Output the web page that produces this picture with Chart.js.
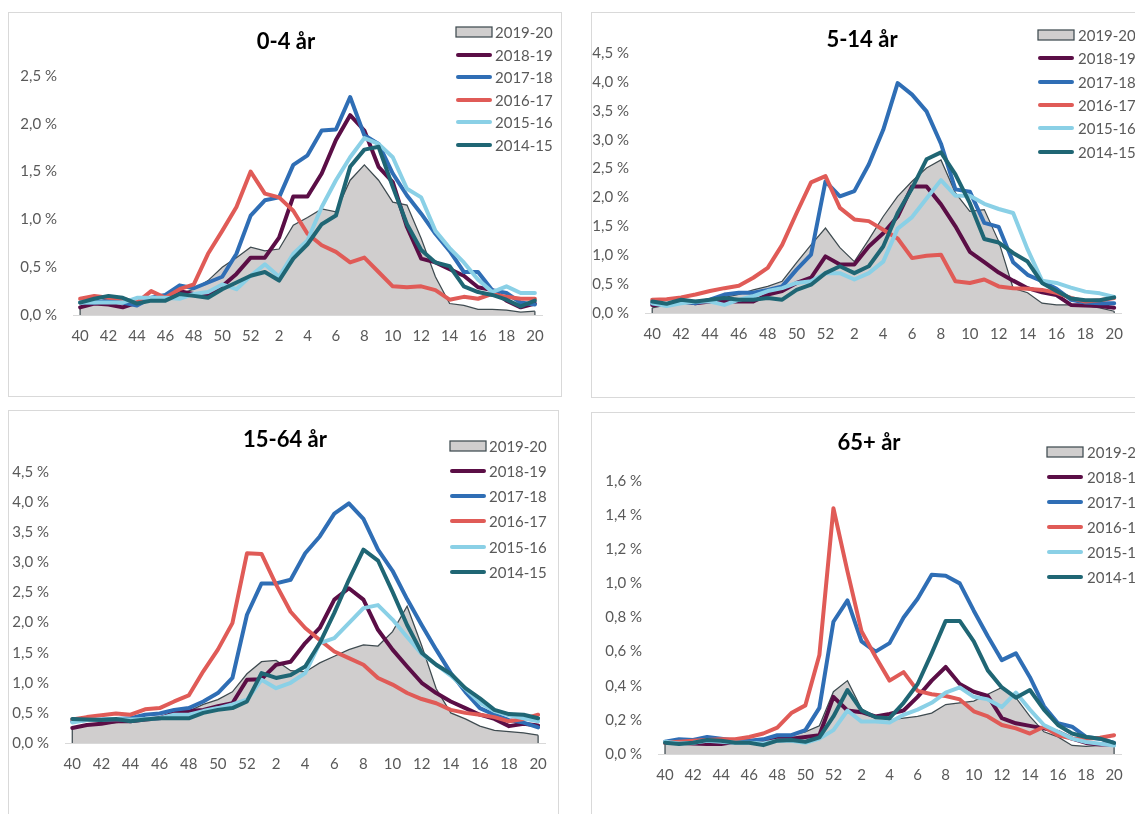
<!DOCTYPE html>
<html>
<head>
<meta charset="utf-8">
<script src="https://cdn.jsdelivr.net/npm/chart.js@4.4.1/dist/chart.umd.min.js"></script>
<style>
  body { margin: 0; width: 1135px; height: 814px; overflow: hidden; background: #fff; position: relative; }
  .box { position: absolute; border: 1px solid #d9d9d9; box-sizing: border-box; }
  canvas { position: absolute; }
</style>
</head>
<body>
<div class="box" style="left:8px;top:12px;width:554px;height:385px"></div>
<div class="box" style="left:591px;top:12px;width:580px;height:386px"></div>
<div class="box" style="left:8px;top:410px;width:551px;height:430px"></div>
<div class="box" style="left:591px;top:412px;width:580px;height:430px"></div>
<canvas id="c1"></canvas>
<canvas id="c2"></canvas>
<canvas id="c3"></canvas>
<canvas id="c4"></canvas>
<script>
// week numbers on the x axis (season runs week 40 -> week 20)
const weeks = [40, 41, 42, 43, 44, 45, 46, 47, 48, 49, 50, 51, 52,
  1, 2, 3, 4, 5, 6, 7, 8, 9, 10, 11, 12, 13, 14, 15, 16, 17, 18, 19, 20];
const seasons = ["2019-20", "2018-19", "2017-18", "2016-17", "2015-16", "2014-15"];
const seriesColors = ["#d0cece", "#5b0e46", "#2f6eb5", "#e05b57", "#8ad0e6", "#1f6674"];

// 0-4 år
const age0_4_1920 = [0.08,0.13,0.17,0.17,0.13,0.18,0.18,0.22,0.27,0.36,0.50,0.60,0.71,0.67,0.69,0.94,1.02,1.11,1.08,1.41,1.57,1.41,1.18,1.15,0.80,0.40,0.12,0.10,0.06,0.06,0.05,0.03,0.04];
const age0_4_1819 = [0.08,0.12,0.11,0.08,0.13,0.16,0.20,0.25,0.22,0.22,0.30,0.43,0.60,0.60,0.81,1.24,1.24,1.48,1.83,2.09,1.93,1.55,1.39,0.92,0.59,0.55,0.48,0.41,0.29,0.26,0.15,0.08,0.12];
const age0_4_1718 = [0.13,0.13,0.15,0.13,0.10,0.18,0.21,0.31,0.28,0.34,0.40,0.64,1.04,1.20,1.23,1.57,1.67,1.93,1.94,2.28,1.88,1.79,1.48,1.25,1.06,0.85,0.67,0.45,0.45,0.26,0.23,0.13,0.11];
const age0_4_1617 = [0.17,0.20,0.18,0.17,0.13,0.25,0.18,0.27,0.32,0.64,0.88,1.13,1.50,1.27,1.23,1.09,0.85,0.73,0.66,0.55,0.60,0.45,0.30,0.29,0.30,0.26,0.16,0.19,0.17,0.22,0.19,0.17,0.17];
const age0_4_1516 = [0.13,0.13,0.13,0.13,0.18,0.18,0.18,0.17,0.22,0.24,0.32,0.27,0.41,0.53,0.40,0.64,0.78,1.13,1.41,1.65,1.85,1.79,1.65,1.32,1.23,0.88,0.70,0.55,0.37,0.24,0.30,0.23,0.23];
const age0_4_1415 = [0.13,0.17,0.20,0.18,0.12,0.15,0.15,0.22,0.20,0.18,0.27,0.34,0.41,0.45,0.36,0.59,0.74,0.95,1.04,1.55,1.73,1.76,1.34,0.95,0.68,0.55,0.51,0.30,0.24,0.21,0.16,0.09,0.15];

// 5-14 år
const age5_14_1920 = [0.09,0.14,0.20,0.20,0.23,0.27,0.32,0.40,0.46,0.55,0.87,1.18,1.47,1.13,0.89,1.27,1.67,2.02,2.28,2.51,2.65,2.08,1.76,1.79,1.24,0.43,0.35,0.17,0.14,0.14,0.13,0.09,0.03];
const age5_14_1819 = [0.14,0.14,0.20,0.17,0.20,0.20,0.20,0.20,0.32,0.38,0.52,0.61,0.98,0.84,0.84,1.15,1.38,1.67,2.19,2.19,1.88,1.50,1.06,0.88,0.70,0.56,0.43,0.36,0.31,0.14,0.13,0.12,0.09];
const age5_14_1718 = [0.17,0.14,0.20,0.17,0.23,0.32,0.35,0.35,0.40,0.46,0.75,1.01,2.28,2.02,2.11,2.57,3.17,3.98,3.78,3.49,2.93,2.14,2.10,1.56,1.49,0.88,0.66,0.55,0.42,0.23,0.18,0.17,0.17];
const age5_14_1617 = [0.23,0.24,0.27,0.32,0.38,0.43,0.47,0.61,0.78,1.18,1.73,2.26,2.37,1.82,1.62,1.59,1.44,1.29,0.95,0.99,1.01,0.55,0.52,0.58,0.46,0.43,0.42,0.40,0.35,0.26,0.20,0.22,0.26];
const age5_14_1516 = [0.17,0.12,0.17,0.20,0.20,0.14,0.23,0.29,0.38,0.43,0.52,0.55,0.69,0.69,0.58,0.69,0.89,1.46,1.66,1.98,2.30,2.03,2.03,1.89,1.80,1.73,1.10,0.56,0.52,0.44,0.37,0.34,0.28];
const age5_14_1415 = [0.20,0.16,0.23,0.20,0.23,0.26,0.23,0.23,0.26,0.23,0.40,0.49,0.69,0.81,0.69,0.81,1.15,1.73,2.16,2.66,2.78,2.40,1.90,1.28,1.22,1.04,0.89,0.52,0.38,0.25,0.22,0.22,0.27];

// 15-64 år
const age15_64_1920 = [0.25,0.30,0.32,0.34,0.36,0.39,0.44,0.47,0.53,0.64,0.72,0.85,1.15,1.35,1.37,1.20,1.18,1.33,1.44,1.55,1.63,1.61,1.85,2.27,1.62,0.90,0.50,0.40,0.28,0.21,0.19,0.17,0.13];
const age15_64_1819 = [0.25,0.30,0.32,0.36,0.36,0.39,0.41,0.50,0.53,0.55,0.61,0.66,1.05,1.06,1.30,1.35,1.66,1.91,2.38,2.57,2.38,1.88,1.55,1.27,1.00,0.83,0.69,0.58,0.47,0.40,0.28,0.32,0.29];
const age15_64_1718 = [0.36,0.38,0.39,0.40,0.41,0.47,0.49,0.55,0.58,0.69,0.83,1.08,2.13,2.65,2.65,2.71,3.15,3.43,3.81,3.98,3.72,3.21,2.86,2.39,1.96,1.55,1.16,0.85,0.58,0.47,0.38,0.34,0.26];
const age15_64_1617 = [0.39,0.43,0.46,0.49,0.47,0.56,0.58,0.69,0.79,1.19,1.55,1.99,3.15,3.14,2.63,2.18,1.91,1.71,1.52,1.41,1.30,1.08,0.97,0.83,0.73,0.66,0.55,0.50,0.47,0.43,0.36,0.40,0.47];
const age15_64_1516 = [0.34,0.38,0.39,0.40,0.39,0.40,0.41,0.47,0.47,0.53,0.58,0.64,0.72,1.05,0.91,1.00,1.16,1.66,1.74,1.99,2.24,2.29,2.05,1.76,1.48,1.30,1.12,0.90,0.67,0.53,0.46,0.41,0.36];
const age15_64_1415 = [0.40,0.39,0.38,0.40,0.36,0.39,0.41,0.41,0.41,0.50,0.55,0.58,0.69,1.16,1.08,1.13,1.27,1.66,2.16,2.71,3.21,3.03,2.51,1.96,1.50,1.30,1.15,0.91,0.74,0.55,0.48,0.47,0.41];

// 65+ år
const age65_1920 = [0.062,0.072,0.09,0.09,0.086,0.082,0.072,0.072,0.10,0.11,0.13,0.165,0.365,0.43,0.265,0.22,0.20,0.21,0.22,0.24,0.29,0.30,0.31,0.35,0.39,0.33,0.22,0.13,0.10,0.05,0.045,0.05,0.055];
const age65_1819 = [0.066,0.066,0.062,0.058,0.058,0.072,0.072,0.082,0.09,0.09,0.10,0.11,0.335,0.255,0.245,0.22,0.235,0.255,0.335,0.43,0.51,0.41,0.365,0.34,0.21,0.18,0.165,0.15,0.13,0.09,0.065,0.055,0.055];
const age65_1718 = [0.072,0.086,0.082,0.10,0.09,0.078,0.078,0.086,0.11,0.11,0.14,0.27,0.775,0.90,0.66,0.60,0.65,0.80,0.91,1.05,1.045,1.00,0.84,0.69,0.55,0.59,0.45,0.28,0.18,0.16,0.10,0.09,0.065];
const age65_1617 = [0.066,0.072,0.078,0.082,0.086,0.086,0.10,0.12,0.155,0.24,0.285,0.58,1.44,1.07,0.72,0.57,0.43,0.48,0.37,0.35,0.34,0.32,0.25,0.22,0.17,0.15,0.12,0.16,0.11,0.09,0.09,0.095,0.11];
const age65_1516 = [0.072,0.062,0.066,0.078,0.072,0.066,0.066,0.062,0.078,0.078,0.066,0.09,0.14,0.255,0.19,0.19,0.185,0.23,0.26,0.30,0.36,0.39,0.335,0.32,0.275,0.36,0.26,0.17,0.13,0.09,0.07,0.06,0.05];
const age65_1415 = [0.066,0.058,0.066,0.082,0.078,0.066,0.066,0.052,0.078,0.082,0.072,0.097,0.22,0.375,0.255,0.215,0.21,0.30,0.41,0.59,0.78,0.78,0.66,0.49,0.39,0.33,0.375,0.26,0.17,0.12,0.10,0.09,0.065];

const fmtPct = v => v.toFixed(1).replace(".", ",") + " %";

function makePanel(cfg, series) {
  const el = document.getElementById(cfg.id);
  const cv = cfg.canvas;
  el.width = cv.w;
  el.height = cv.h;
  el.style.left = cv.x + "px";
  el.style.top = cv.y + "px";
  el.style.width = cv.w + "px";
  el.style.height = cv.h + "px";

  const a = cfg.area;
  const xAxisH = 40;

  const datasets = series.map((d, k) => {
    if (k === 0) {
      return {
        label: seasons[0],
        data: d,
        fill: "origin",
        backgroundColor: seriesColors[0],
        borderColor: "#3f4b50",
        borderWidth: 1.25,
        pointRadius: 0,
        tension: 0,
        order: 10,
      };
    }
    return {
      label: seasons[k],
      data: d,
      fill: false,
      borderColor: seriesColors[k],
      borderWidth: 4,
      borderCapStyle: "round",
      borderJoinStyle: "round",
      pointRadius: 0,
      tension: 0,
      order: 10 - k,
    };
  });

  // title, legend and the area's vertical edges
  const decor = {
    id: "decor",
    afterDatasetDraw(chart, args) {
      if (args.index !== 0) return;
      const pts = args.meta.data;
      const yb = chart.scales.y.getPixelForValue(0);
      const c = chart.ctx;
      c.save();
      c.strokeStyle = "#3f4b50";
      c.lineWidth = 1.25;
      c.beginPath();
      [pts[0], pts[pts.length - 1]].forEach(p => {
        c.moveTo(p.x, yb);
        c.lineTo(p.x, p.y);
      });
      c.stroke();
      c.restore();
    },
    afterDraw(chart) {
      const c = chart.ctx;
      c.save();
      c.fillStyle = "#000";
      c.font = "bold 22px Lato";
      c.textAlign = "center";
      c.textBaseline = "middle";
      c.fillText(cfg.title, cfg.titleX - cv.x, cfg.titleY - cv.y);

      c.font = "15px Lato";
      c.textAlign = "left";
      for (let k = 0; k < seasons.length; k++) {
        const y = cfg.legY[k] - cv.y;
        const sx = cfg.legX - cv.x;
        if (k === 0) {
          c.fillStyle = seriesColors[0];
          c.fillRect(sx, y - 5, 36, 10);
          c.strokeStyle = "#3f4b50";
          c.lineWidth = 1.25;
          c.strokeRect(sx, y - 5, 36, 10);
        } else {
          c.strokeStyle = seriesColors[k];
          c.lineWidth = 4;
          c.lineCap = "round";
          c.beginPath();
          c.moveTo(sx + 2, y);
          c.lineTo(sx + 34, y);
          c.stroke();
        }
        c.fillStyle = "#595959";
        c.fillText(seasons[k], cfg.legTextX - cv.x, y + 1);
      }
      c.restore();
    },
  };

  new Chart(el, {
    type: "line",
    data: { labels: weeks.map(String), datasets: datasets },
    options: {
      responsive: false,
      animation: false,
      layout: {
        padding: {
          left: 0,
          top: a.t - cv.y,
          right: cv.x + cv.w - a.r,
          bottom: cv.y + cv.h - a.b - xAxisH,
        },
      },
      scales: {
        x: {
          offset: true,
          grid: { display: false, drawTicks: false },
          border: { display: true, color: "#d9d9d9", width: 1 },
          ticks: {
            autoSkip: false,
            maxRotation: 0,
            padding: 12,
            color: "#595959",
            font: { family: "Lato", size: 15 },
            callback: (v, i) => (i % 2 === 0 ? String(weeks[i]) : ""),
          },
          afterFit: s => { s.height = xAxisH; },
        },
        y: {
          min: 0,
          max: cfg.yMax,
          grid: { display: false, drawTicks: false },
          border: { display: false },
          ticks: {
            stepSize: cfg.yStep,
            padding: 16,
            color: "#595959",
            font: { family: "Lato", size: 15 },
            callback: v => fmtPct(v),
          },
          afterFit: s => { s.width = a.l - cv.x; },
        },
      },
      plugins: {
        legend: { display: false },
        tooltip: { enabled: false },
      },
    },
    plugins: [decor],
  });
}

makePanel({
  id: "c1", canvas: { x: 8, y: 12, w: 554, h: 385 },
  area: { l: 73, r: 542, t: 76, b: 315 }, yMax: 2.5, yStep: 0.5,
  title: "0-4 år", titleX: 286, titleY: 42,
  legX: 456, legTextX: 495, legY: [32, 55, 77, 100, 122, 145],
}, [age0_4_1920, age0_4_1819, age0_4_1718, age0_4_1617, age0_4_1516, age0_4_1415]);

makePanel({
  id: "c2", canvas: { x: 591, y: 12, w: 544, h: 386 },
  area: { l: 645, r: 1129, t: 53, b: 313 }, yMax: 4.5, yStep: 0.5,
  title: "5-14 år", titleX: 862, titleY: 40,
  legX: 1038, legTextX: 1078, legY: [35, 58, 82, 105, 128, 152],
}, [age5_14_1920, age5_14_1819, age5_14_1718, age5_14_1617, age5_14_1516, age5_14_1415]);

makePanel({
  id: "c3", canvas: { x: 8, y: 410, w: 551, h: 404 },
  area: { l: 65, r: 547, t: 472, b: 743 }, yMax: 4.5, yStep: 0.5,
  title: "15-64 år", titleX: 285, titleY: 440,
  legX: 450, legTextX: 489, legY: [446, 471, 496, 521, 547, 572],
}, [age15_64_1920, age15_64_1819, age15_64_1718, age15_64_1617, age15_64_1516, age15_64_1415]);

makePanel({
  id: "c4", canvas: { x: 591, y: 412, w: 544, h: 402 },
  area: { l: 658, r: 1122, t: 481, b: 754 }, yMax: 1.6, yStep: 0.2,
  title: "65+ år", titleX: 869, titleY: 443,
  legX: 1047, legTextX: 1087, legY: [452, 477, 502, 527, 552, 577],
}, [age65_1920, age65_1819, age65_1718, age65_1617, age65_1516, age65_1415]);
</script>
</body>
</html>
